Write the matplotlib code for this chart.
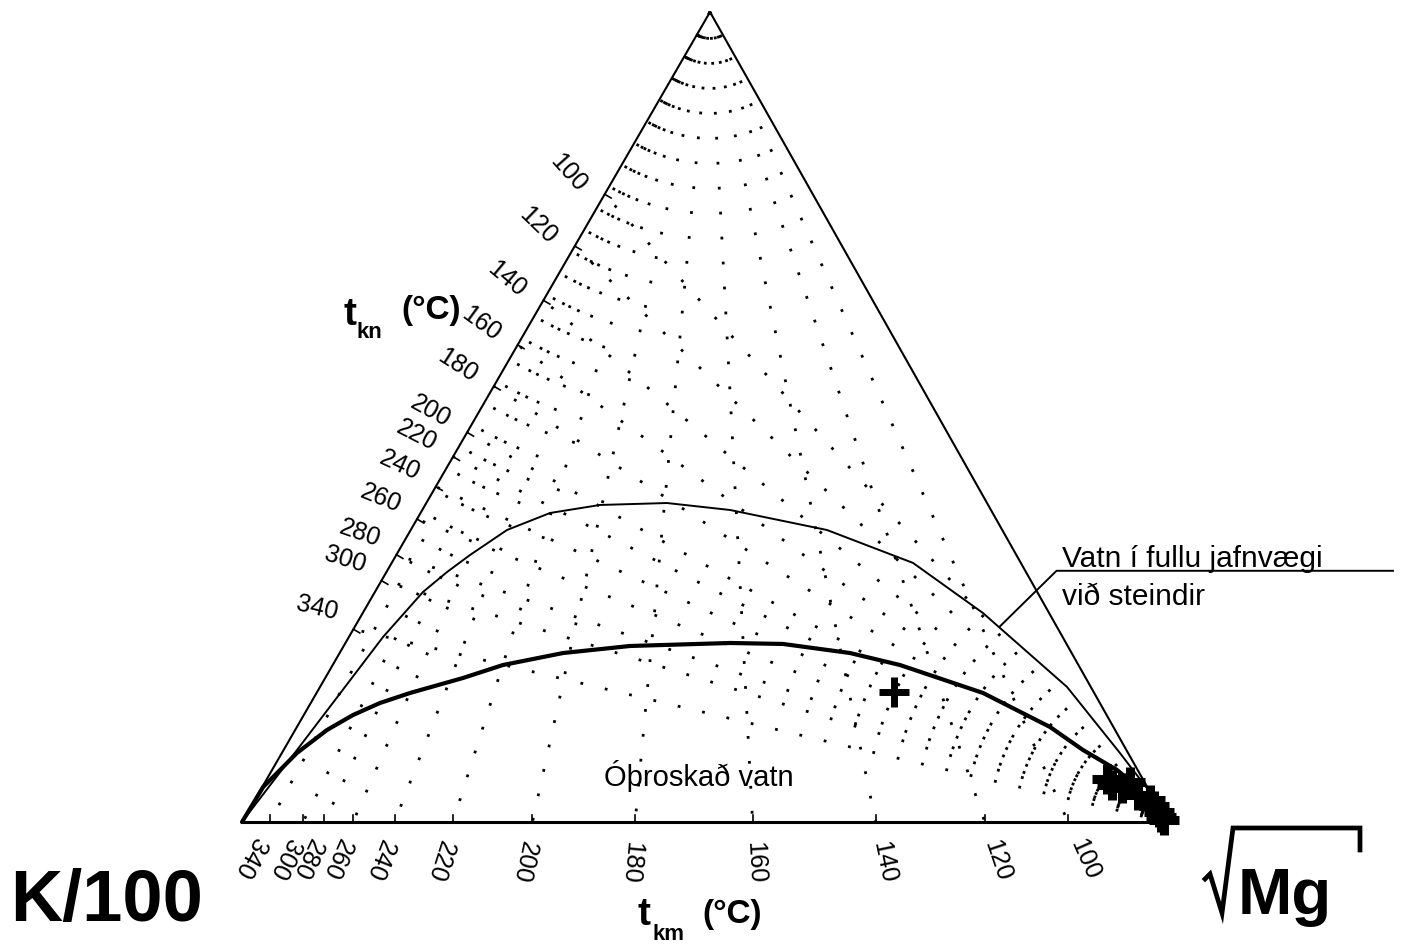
import numpy as np
import matplotlib
matplotlib.use("Agg")
import matplotlib.pyplot as plt
from matplotlib.lines import Line2D
from matplotlib.transforms import IdentityTransform

plt.rcParams['font.family'] = ['Liberation Sans', 'DejaVu Sans']

W, H, DPI = 1405, 947, 100

# ---------------- data ----------------
# t_kn isotherms (Na-K): Na/1000 fraction where each isotherm meets the K-Na edge
tkn_temps = [100, 120, 140, 160, 180, 200, 220, 240, 260, 280, 300, 340]
tkn_na = [0.775, 0.711, 0.644, 0.589, 0.538, 0.481, 0.451, 0.414, 0.374, 0.330, 0.298, 0.238]

# t_km isotherms (K-Mg): sqrt(Mg) fraction where each isotherm meets the K-Mg edge
tkm_temps = [340, 300, 280, 260, 240, 220, 200, 180, 160, 140, 120, 100]
tkm_mg = [0.030, 0.066, 0.089, 0.120, 0.165, 0.228, 0.314, 0.425, 0.552, 0.685, 0.803, 0.893]

# full equilibrium line (thin)
full_na = [0.0, 0.0889, 0.2284, 0.284, 0.3086, 0.3296, 0.3605, 0.3815, 0.3914, 0.3938,
           0.3852, 0.3605, 0.3198, 0.258, 0.1667, 0.0852, 0.021, 0.0]
full_mg = [0.0, 0.0145, 0.0369, 0.052, 0.0655, 0.0797, 0.1041, 0.14, 0.189, 0.2602,
           0.3327, 0.45, 0.5637, 0.6705, 0.8076, 0.906, 0.9816, 1.0]

# immature water boundary (thick)
imm_na = [0.0, 0.0432, 0.0852, 0.1136, 0.1321, 0.1469, 0.1593, 0.1778, 0.1938, 0.2086,
          0.2173, 0.221, 0.2198, 0.2086, 0.1938, 0.1593, 0.1173, 0.0889, 0.0642, 0.0457, 0.0]
imm_mg = [0.0, 0.001, 0.0163, 0.0344, 0.0532, 0.0748, 0.1011, 0.149, 0.184, 0.2415,
          0.3095, 0.4158, 0.4737, 0.5518, 0.6133, 0.7205, 0.8142, 0.8642, 0.9135, 0.9423, 1.0]

# water samples
sample_na = [0.1605, 0.0530, 0.0457, 0.042, 0.0494, 0.0333, 0.0272, 0.0198, 0.012, 0.0060, 0.0025]
sample_mg = [0.6235, 0.9080, 0.9177, 0.9304, 0.9353, 0.952, 0.968, 0.9760, 0.985, 0.990, 0.996]

# leader anchor on full-equilibrium line
leader_na, leader_mg = 0.241, 0.697

S3 = np.sqrt(3) / 2
C = 468 / 925  # horizontal position of the Na apex


def cart(na, mg):
    na = np.asarray(na, float)
    mg = np.asarray(mg, float)
    return mg + C * na, S3 * na


fig = plt.figure(figsize=(W / DPI, H / DPI), dpi=DPI)
fig.patch.set_facecolor('white')
ax = fig.add_axes([242 / W, 1 - 822 / H, 925 / W, 810 / H])
ax.set_xlim(0, 1)
ax.set_ylim(0, S3)
ax.axis('off')


def disp(x, y):
    return np.array(ax.transData.transform((x, y)))


apx, apy = cart(1, 0)
dot = (0, (1, 8))
# dotted isotherms
for f in tkn_na:
    x, y = cart(f, 0)
    ax.plot([1, x], [0, y], color='k', lw=2.0, ls=dot, clip_on=False)
for b in tkm_mg:
    ax.plot([apx, b], [apy, 0], color='k', lw=2.0, ls=dot, clip_on=False)

# triangle
ax.plot([0, apx, 1], [0, apy, 0], color='k', lw=1.5, clip_on=False)
ax.plot([0, 1], [0, 0], color='k', lw=2.2, clip_on=False)

# ticks
for b in tkm_mg:
    ax.plot([b, b], [0, 0.008], color='k', lw=1.2, clip_on=False)
V_mg = disp(1, 0)
V_na = disp(apx, apy)
K0 = disp(0, 0)
edge = V_na - K0
edge /= np.hypot(*edge)
normal = np.array([-edge[1], edge[0]])
for f in tkn_na:
    x, y = cart(f, 0)
    ax.plot([x, x - normal[0] * 0.008], [y, y - normal[1] * 0.008], color='k', lw=1.2, clip_on=False)

# curves
fx, fy = cart(full_na, full_mg)
ax.plot(fx, fy, color='k', lw=1.4, clip_on=False)
ix, iy = cart(imm_na, imm_mg)
ax.plot(ix, iy, color='k', lw=3.0, clip_on=False, solid_capstyle='round', solid_joinstyle='round')

# samples
sx, sy = cart(sample_na, sample_mg)
ax.plot(sx[:1], sy[:1], ls='none', marker='+', ms=22, mew=5, color='k', clip_on=False)
ax.plot(sx[1:], sy[1:], ls='none', marker='+', ms=21, mew=6.5, color='k', clip_on=False)

# tick labels
for t, f in zip(tkn_temps, tkn_na):
    ex, ey = cart(f, 0)
    p = disp(ex, ey)
    d = V_mg - p
    d /= np.hypot(*d)
    rot = np.degrees(np.arctan2(d[1], d[0]))
    off = normal * 42
    ax.annotate(str(t), xy=(ex, ey), xytext=(off[0], off[1]), textcoords='offset pixels',
                rotation=rot, rotation_mode='anchor', ha='center', va='center',
                fontsize=18, annotation_clip=False)

for t, b in zip(tkm_temps, tkm_mg):
    p = disp(b, 0)
    d = p - V_na
    d /= np.hypot(*d)
    rot = np.degrees(np.arctan2(d[1], d[0]))
    ax.annotate(str(t), xy=(b, 0), xytext=(d[0] * 20, d[1] * 20), textcoords='offset pixels',
                rotation=rot, rotation_mode='anchor', ha='left', va='center',
                fontsize=18, annotation_clip=False)


def ftext(x, y, s, **kw):
    fig.text(x / W, 1 - y / H, s, va='baseline', **kw)


# axis titles
ftext(343, 325, 't', fontsize=28, fontweight='bold')
ftext(357, 338, 'kn', fontsize=16, fontweight='bold')
ftext(401, 319, '(°C)', fontsize=24, fontweight='bold')

ftext(637, 925, 't', fontsize=28, fontweight='bold')
ftext(652, 940, 'km', fontsize=16, fontweight='bold')
ftext(702, 923, '(°C)', fontsize=24, fontweight='bold')

ftext(10, 921, 'K/100', fontsize=52, fontweight='bold')
ftext(1238, 914, 'Mg', fontsize=47, fontweight='bold')

# radical sign
rad_x = [1205, 1210, 1222, 1233, 1360, 1360]
rad_y = [879, 874, 913, 828, 828, 850]
fig.add_artist(Line2D(rad_x, [H - v for v in rad_y], transform=IdentityTransform(),
                      color='k', lw=3.4, solid_joinstyle='miter'))

# region labels
ftext(604, 786, 'Óþroskað vatn', fontsize=21)
ftext(1062, 567, 'Vatn í fullu jafnvægi', fontsize=21.5)
ftext(1062, 605, 'við steindir', fontsize=21.5)

# leader line
lx, ly = cart(leader_na, leader_mg)
p0 = disp(float(lx), float(ly))
p1 = p0 + np.array([57, 56])
p2 = np.array([1393, p1[1]])
fig.add_artist(Line2D([p0[0], p1[0], p2[0]], [p0[1], p1[1], p2[1]],
                      transform=IdentityTransform(), color='k', lw=1.4))

fig.savefig('out.png', dpi=DPI, facecolor='white')
